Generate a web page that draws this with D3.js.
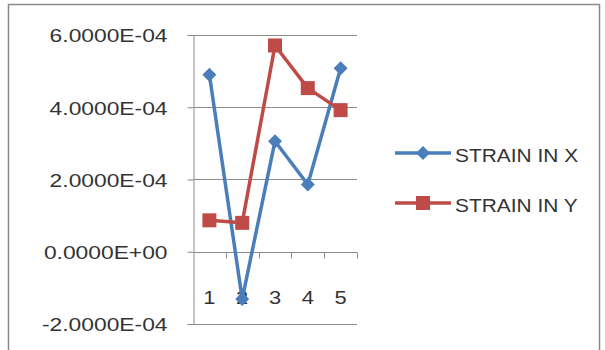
<!DOCTYPE html>
<html>
<head>
<meta charset="utf-8">
<script src="https://cdn.jsdelivr.net/npm/d3@7"></script>
<style>
  html, body { margin: 0; padding: 0; background: #fff; }
  svg { display: block; }
  text { font-family: "Liberation Sans", Arial, sans-serif; fill: #333; }
</style>
</head>
<body>
<svg id="chart" width="605" height="350"></svg>
<script>
// ---- data ----
const categories = ["1", "2", "3", "4", "5"];
const strainX = [4.90e-4, -1.31e-4, 3.06e-4, 1.86e-4, 5.08e-4];
const strainY = [0.87e-4, 0.80e-4, 5.71e-4, 4.53e-4, 3.92e-4];
const seriesNames = ["STRAIN IN X", "STRAIN IN Y"];
const tickValues = [-2e-4, 0, 2e-4, 4e-4, 6e-4];
const tickLabels = ["-2.0000E-04", "0.0000E+00", "2.0000E-04", "4.0000E-04", "6.0000E-04"];

const series = [
  { name: seriesNames[0], values: strainX, color: "#4a7ebb", marker: "diamond" },
  { name: seriesNames[1], values: strainY, color: "#be4b48", marker: "square" }
];

const svg = d3.select("#chart");
const plot = { left: 193, right: 357, top: 35, bottom: 324 };
const gridColor = "#8c8c8c";

// outer border
svg.append("rect")
  .attr("x", 8.5).attr("y", 4.5)
  .attr("width", 591).attr("height", 350)
  .attr("fill", "#fff")
  .attr("stroke", "#8a8a8a").attr("stroke-width", 1.5);

const x = d3.scaleBand().domain(categories).range([plot.left, plot.right]).padding(0);
const y = d3.scaleLinear().domain([-2e-4, 6e-4]).range([plot.bottom, plot.top]);

function stretch(k) {
  return sel => sel.each(function () {
    const len = this.getComputedTextLength();
    d3.select(this).attr("textLength", len * k).attr("lengthAdjust", "spacingAndGlyphs");
  });
}

// gridlines
svg.append("g").selectAll("line")
  .data(tickValues)
  .join("line")
  .attr("x1", plot.left).attr("x2", plot.right)
  .attr("y1", d => Math.round(y(d)) + 0.5).attr("y2", d => Math.round(y(d)) + 0.5)
  .attr("stroke", gridColor).attr("stroke-width", 1);

// y axis
const yAxis = d3.axisLeft(y)
  .tickValues(tickValues)
  .tickFormat((d, i) => tickLabels[i])
  .tickSize(6).tickPadding(20);
const gy = svg.append("g").attr("transform", `translate(${plot.left + 0.5},0)`).call(yAxis);
gy.select(".domain").attr("stroke", gridColor);
gy.selectAll(".tick line").attr("stroke", gridColor);
gy.selectAll(".tick text")
  .attr("font-size", 19)
  .attr("font-family", "Liberation Sans, Arial, sans-serif")
  .attr("fill", "#333")
  .attr("dy", "0.36em")
  .call(stretch(1.2));

// x axis at zero with ticks at category boundaries
const xAxisG = svg.append("g").attr("transform", `translate(0,${Math.round(y(0)) + 0.5})`);
xAxisG.append("line")
  .attr("x1", plot.left).attr("x2", plot.right)
  .attr("stroke", gridColor);
const boundaries = categories.map(c => x(c) + x.bandwidth());
xAxisG.selectAll("line.tk")
  .data(boundaries)
  .join("line").attr("class", "tk")
  .attr("x1", d => Math.round(d) + 0.5).attr("x2", d => Math.round(d) + 0.5)
  .attr("y1", 0).attr("y2", 6)
  .attr("stroke", gridColor);

// category labels
svg.append("g").selectAll("text")
  .data(categories)
  .join("text")
  .attr("x", d => x(d) + x.bandwidth() / 2)
  .attr("y", 297)
  .attr("dy", "0.36em")
  .attr("text-anchor", "middle")
  .attr("font-size", 19)
  .text(d => d)
  .call(stretch(1.15));

// lines & markers
const line = d3.line()
  .x((d, i) => x(categories[i]) + x.bandwidth() / 2)
  .y(d => y(d));

function drawMarker(g, type, color, cx, cy) {
  if (type === "diamond") {
    const s = 7;
    g.append("path")
      .attr("d", `M${cx},${cy - s}L${cx + s},${cy}L${cx},${cy + s}L${cx - s},${cy}Z`)
      .attr("fill", color);
  } else {
    const s = 7;
    g.append("rect")
      .attr("x", cx - s).attr("y", cy - s)
      .attr("width", 2 * s).attr("height", 2 * s)
      .attr("fill", color);
  }
}

series.forEach(s => {
  const g = svg.append("g");
  g.append("path")
    .datum(s.values)
    .attr("d", line)
    .attr("fill", "none")
    .attr("stroke", s.color)
    .attr("stroke-width", 3.5)
    .attr("stroke-linejoin", "round");
  s.values.forEach((v, i) => {
    drawMarker(g, s.marker, s.color, x(categories[i]) + x.bandwidth() / 2, y(v));
  });
});

// legend
const legendY = [153, 203];
series.forEach((s, i) => {
  const g = svg.append("g");
  g.append("line")
    .attr("x1", 395).attr("x2", 451)
    .attr("y1", legendY[i]).attr("y2", legendY[i])
    .attr("stroke", s.color).attr("stroke-width", 3.5);
  drawMarker(g, s.marker, s.color, 423, legendY[i]);
  g.append("text")
    .attr("x", 455).attr("y", legendY[i] + 2)
    .attr("dy", "0.36em")
    .attr("font-size", 19)
    .text(s.name)
    .call(stretch(1.1));
});
</script>
</body>
</html>
